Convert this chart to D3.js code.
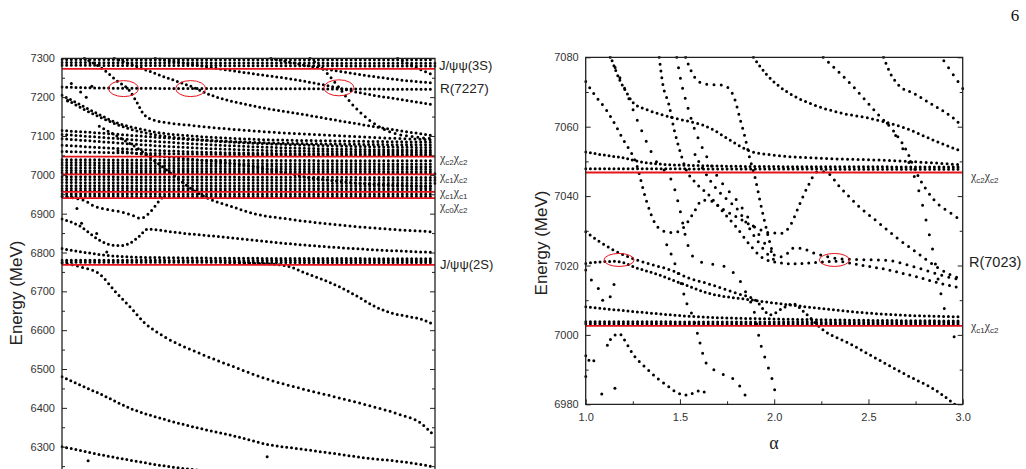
<!DOCTYPE html>
<html>
<head>
<meta charset="utf-8">
<script src="https://cdn.jsdelivr.net/npm/d3@7"></script>
<style>
  body { margin: 0; background: #fff; }
  svg { display: block; }
</style>
</head>
<body>
<svg id="chart" width="1026" height="469"></svg>
<script>
// ---- left panel data (alpha, energy in MeV) ----
const leftTicks = [6300, 6400, 6500, 6600, 6700, 6800, 6900, 7000, 7100, 7200, 7300];
const leftThresholds = [7273, 7047, 7001, 6956, 6940, 6768];
const leftRings = [[1.33, 7222], [1.69, 7222], [2.485, 7224]];

const lTop1 = [[1, 7297], [2, 7296], [3, 7296]];
const lTop2 = [[1, 7289], [2, 7288], [3, 7287]];
const lTop3 = [[1, 7282], [2, 7281], [3, 7280]];
const lR7227 = [[1, 7226], [1.3, 7223], [2, 7222], [3, 7220]];
const lDiagA = [[1.12, 7300], [1.22, 7272], [1.3, 7240], [1.36, 7218], [1.4, 7188], [1.44, 7155], [1.5, 7140], [1.7, 7127], [2, 7114], [2.5, 7100], [3, 7090]];
const lDiagB = [[1.28, 7300], [1.45, 7270], [1.55, 7252], [1.7, 7226], [1.8, 7205], [2, 7180], [2.3, 7155], [2.6, 7130], [3, 7100]];
const lDiagP = [[1.5, 7300], [1.75, 7280], [2, 7262], [2.25, 7245], [2.47, 7225], [2.6, 7211], [2.8, 7195], [3, 7180]];
const lDiagC = [[2.33, 7300], [2.42, 7262], [2.49, 7222], [2.55, 7185], [2.64, 7144], [2.75, 7112], [2.9, 7097], [3, 7093]];
const lDiagD = [[2.12, 7300], [2.35, 7278], [2.6, 7258], [2.8, 7245], [3, 7236]];
const lDiagE = [[2.8, 7300], [2.9, 7276], [3, 7255]];
const lFan1 = [[1, 7205], [1.1, 7180], [1.2, 7155], [1.3, 7133], [1.4, 7120], [1.5, 7110], [1.7, 7100], [2, 7092], [2.5, 7087], [3, 7084]];
const lFan2 = [[1.03, 7192], [1.12, 7168], [1.22, 7145], [1.35, 7120], [1.5, 7103], [1.7, 7092], [2, 7084], [2.5, 7079], [3, 7077]];
const lRow7114 = [[1, 7114], [1.25, 7106], [1.5, 7097], [2, 7082], [2.5, 7074], [3, 7070]];
const lRow7104 = [[1, 7104], [1.25, 7095], [1.5, 7086], [2, 7073], [2.5, 7066], [3, 7063]];
const lRow7093 = [[1, 7093], [1.3, 7082], [1.6, 7072], [2, 7064], [2.5, 7060], [3, 7058]];
const lRow7076 = [[1, 7076], [1.3, 7068], [1.6, 7061], [2, 7056], [3, 7053]];
const lRow7060 = [[1, 7060], [1.5, 7055], [2, 7052], [3, 7050]];
// dense band rows, energy at alpha = 1, 2, 3
const lBandAt1 = [7039, 7032, 7025, 7018, 7011, 7005, 6995, 6988, 6980, 6972, 6965, 6959, 6951, 6945];
const lBandAt2 = [7037, 7029, 7022, 7015, 7009, 7004, 6994, 6987, 6979, 6971, 6964, 6958, 6950, 6944];
const lBandAt3 = [7036, 7028, 7021, 7014, 7008, 7003, 6993, 6986, 6978, 6971, 6964, 6958, 6950, 6944];
const lCross = [[1.3, 7062], [1.5, 7049], [1.7, 7040], [1.9, 7030], [2.1, 7015], [2.2, 7005], [2.3, 6995], [2.45, 6985], [2.7, 6975], [3, 6970]];
const lLineA = [[1.2, 7125], [1.3, 7098], [1.4, 7070], [1.5, 7035], [1.6, 6998], [1.7, 6962], [1.78, 6940], [1.9, 6920], [2.03, 6900], [2.2, 6887], [2.4, 6875], [2.7, 6862], [3, 6853]];
const lDip = [[1, 6944], [1.07, 6940], [1.12, 6934], [1.17, 6920], [1.25, 6910], [1.32, 6904], [1.38, 6895], [1.42, 6888], [1.46, 6898], [1.5, 6920], [1.53, 6938], [1.56, 6946]];
const lWave = [[1, 6886], [1.1, 6867], [1.19, 6835], [1.27, 6819], [1.32, 6818], [1.36, 6823], [1.41, 6840], [1.46, 6860], [1.5, 6859], [1.59, 6853], [1.86, 6840], [2.21, 6823], [2.57, 6810], [3, 6800]];
const l6810 = [[1, 6810], [1.1, 6802], [1.2, 6795], [1.3, 6790], [1.5, 6787], [2, 6785], [3, 6784]];
const l2SRow1 = [[1, 6780], [3, 6779]];
const l2SRow2 = [[1, 6775], [3, 6774]];
const lDropH = [[1.9, 6775], [2.05, 6772], [2.2, 6766], [2.31, 6746], [2.4, 6730], [2.49, 6711], [2.58, 6688], [2.67, 6663], [2.76, 6645], [2.85, 6636], [2.94, 6626], [3, 6613]];
const lBig = [[1, 6773], [1.1, 6763], [1.2, 6745], [1.29, 6697], [1.38, 6652], [1.44, 6620], [1.5, 6598], [1.56, 6580], [1.74, 6540], [1.92, 6506], [2.1, 6474], [2.28, 6450], [2.45, 6430], [2.63, 6408], [2.81, 6383], [2.92, 6362], [3, 6326]];
const l6480 = [[1, 6480], [1.1, 6458], [1.2, 6437], [1.38, 6396], [1.56, 6369], [1.74, 6347], [1.92, 6328], [2.1, 6306], [2.28, 6294], [2.45, 6283], [2.63, 6271], [2.81, 6262], [2.95, 6252], [3, 6247]];
const l6300 = [[1, 6300], [1.1, 6290], [1.2, 6280], [1.38, 6264], [1.6, 6247], [1.8, 6236], [2, 6228]];
const lSingles = [[1.14, 6264], [2.1, 6274], [1.08, 6913], [1.105, 6875], [1.186, 6849], [1.24, 6801], [1.05, 7235], [1.1, 7213], [1.16, 7228], [1.03, 7190], [1.13, 7200]];

// ---- right panel data ----
const rightTicks = [6980, 7000, 7020, 7040, 7060, 7080];
const alphaTicks = [1.0, 1.5, 2.0, 2.5, 3.0];
const rightThresholds = [7046.8, 7002.6];
const rightRings = [[1.177, 7021.6], [2.319, 7021.6]];

const rR1 = [[1, 7052.7], [1.1, 7051.8], [1.2, 7051], [1.28, 7050], [1.4, 7049.2], [1.6, 7048.8], [2, 7048.5], [3, 7048.4]];
const rRow7048 = [[1, 7047.9], [3, 7047.7]];
const rS2 = [[1.14, 7079], [1.18, 7073.5], [1.21, 7070.5], [1.25, 7067], [1.32, 7065], [1.4, 7063.5], [1.47, 7062.5], [1.55, 7061.5], [1.62, 7060.5], [1.68, 7059], [1.74, 7057], [1.8, 7055], [1.87, 7053], [2, 7051.8], [2.3, 7050.8], [2.6, 7050.3], [3, 7049]];
const rS3 = [[1.13, 7080], [1.21, 7070.6], [1.28, 7061], [1.37, 7050.4], [1.465, 7043.2], [1.5, 7036], [1.536, 7027], [1.57, 7022.5], [1.606, 7021.1], [1.68, 7020.3], [1.75, 7019.5], [1.79, 7017.5], [1.82, 7015.5], [1.86, 7011], [1.89, 7007.5], [1.925, 6998], [1.96, 6992], [1.99, 6987], [2.015, 6981]];
const rL6 = [[1, 7073], [1.05, 7069], [1.11, 7064.8], [1.2, 7056.2], [1.27, 7049], [1.32, 7039], [1.37, 7032], [1.42, 7029.8], [1.47, 7029.5], [1.52, 7031], [1.57, 7035], [1.62, 7038.8], [1.67, 7038.5], [1.72, 7036.5], [1.8, 7034], [1.9, 7031], [1.97, 7029.5], [2.04, 7029.3], [2.09, 7032], [2.13, 7037], [2.18, 7043], [2.23, 7047], [2.27, 7047], [2.35, 7042.5], [2.45, 7037], [2.55, 7032.5], [2.65, 7028], [2.75, 7024], [2.85, 7020], [2.93, 7017.5], [3, 7016]];
const rL5 = [[1.53, 7080], [1.56, 7076], [1.6, 7073], [1.65, 7072.2], [1.72, 7072], [1.76, 7071], [1.79, 7068], [1.82, 7062], [1.845, 7057], [1.87, 7051], [1.9, 7045], [1.925, 7038.5], [1.95, 7032.5], [1.975, 7027], [2, 7023], [2.03, 7022.5], [2.07, 7023.5], [2.1, 7025], [2.14, 7025], [2.2, 7023.8], [2.28, 7022.6], [2.35, 7021.9], [2.45, 7021.7], [2.6, 7021.5], [2.7, 7020.3], [2.8, 7018.7], [2.9, 7017], [3, 7015.8]];
const rMF1 = [[1.39, 7080], [1.41, 7072], [1.44, 7066.7], [1.47, 7059], [1.5, 7053], [1.53, 7048], [1.58, 7044], [1.65, 7040.5], [1.72, 7036], [1.8, 7031], [1.87, 7026], [1.93, 7022.5], [2, 7021], [2.1, 7020.5], [2.2, 7020.8], [2.33, 7021.2], [2.45, 7020.2], [2.6, 7018.8], [2.75, 7016.8], [2.9, 7014.6], [3, 7013.4]];
const rMF2 = [[1.483, 7080], [1.51, 7072], [1.536, 7066.7], [1.57, 7060.5], [1.6, 7056.2], [1.65, 7050.5], [1.7, 7045.6], [1.75, 7042], [1.8, 7038.9], [1.9, 7030.5], [1.995, 7023.5], [2.03, 7022.5]];
const rMF3 = [[1.58, 7052], [1.62, 7048], [1.68, 7043], [1.75, 7039], [1.8, 7036.5], [1.9, 7028], [1.97, 7023], [2.03, 7020.6]];
const rE3 = [[1.89, 7080], [1.96, 7075], [2.03, 7071.5], [2.1, 7069], [2.2, 7066.5], [2.35, 7064], [2.5, 7062.5], [2.7, 7059.5], [2.85, 7056], [3, 7052.8]];
const rE4 = [[2.26, 7080], [2.42, 7071.5], [2.56, 7063], [2.63, 7059], [2.7, 7053.3], [2.756, 7046.6], [2.84, 7039.4], [2.95, 7034.6], [3, 7032.6]];
const rE2 = [[2.58, 7080], [2.62, 7075], [2.66, 7072], [2.74, 7069.6], [2.85, 7066], [2.95, 7062.5], [3, 7060]];
const rE1 = [[2.9, 7079], [2.95, 7075], [3, 7071]];
const rSteepR = [[2.6, 7061], [2.66, 7056], [2.72, 7049], [2.77, 7041], [2.81, 7032], [2.85, 7022], [2.88, 7013], [2.91, 7006], [2.95, 7000], [3, 6996]];
const rUpper = [[1, 7029.7], [1.07, 7027], [1.146, 7024.5], [1.25, 7022], [1.35, 7020.3], [1.46, 7018.5], [1.55, 7016.3], [1.64, 7014.9], [1.8, 7012], [1.9, 7010], [1.98, 7005.8], [2.04, 7007.5], [2.1, 7009], [2.16, 7006.5], [2.26, 7001.4], [2.4, 6997.5], [2.525, 6993.7], [2.7, 6988.5], [2.88, 6983.2], [2.95, 6980.3], [3, 6978]];
const rLower = [[1, 7020.6], [1.07, 7021], [1.146, 7021.2], [1.2, 7020.8], [1.25, 7019.7], [1.39, 7017.3], [1.5, 7015], [1.64, 7012.2], [1.89, 7010], [2.17, 7008.1], [2.52, 7006.2], [3, 7005.2]];
const rRow7008 = [[1, 7008.1], [1.3, 7006.5], [1.6, 7005.2], [2, 7004.6], [3, 7004]];
const rRow7004 = [[1, 7003.8], [3, 7003.6]];
const rRow7003 = [[1, 7003.2], [3, 7003.1]];
const rBowl = [[1.115, 6997], [1.14, 6999.3], [1.18, 7000.3], [1.2, 6999], [1.25, 6994.5], [1.32, 6990.5], [1.38, 6987.5], [1.43, 6985.5], [1.5, 6983], [1.54, 6982.7], [1.58, 6983.5], [1.61, 6984], [1.63, 6983.5], [1.645, 6982]];
const rSteepMid = [[1.43, 7026], [1.47, 7021], [1.5, 7016], [1.53, 7010], [1.57, 7005], [1.6, 6999], [1.64, 6991.8], [1.72, 6988.9], [1.8, 6986.5], [1.85, 6982.2], [1.87, 6980]];
const rLeftShort = [[1, 6994], [1.03, 6992.3], [1.05, 6992.6], [1.07, 6992.2]];
const rSingles = [[1.0, 6988], [1.085, 6983], [1.155, 6984.6], [1.03, 7015.8], [1.067, 7013.4], [1.09, 7010], [1.13, 7011], [1.15, 7014.5], [1.0, 7018.7]];

// tables built from the arrays above
const lBandRows = lBandAt1.map((e, i) => [[1, e], [2, lBandAt2[i]], [3, lBandAt3[i]]]);
const leftCurves = [lTop1, lTop2, lTop3, lR7227, lDiagA, lDiagB, lDiagP, lDiagC, lDiagD, lDiagE,
  lFan1, lFan2, lRow7114, lRow7104, lRow7093, lRow7076, lRow7060,
  ...lBandRows, lCross, lLineA, lDip, lWave, l6810, l2SRow1, l2SRow2, lDropH, lBig, l6480, l6300];
const rightCurves = [rR1, rRow7048, rS2, rS3, rL6, rL5, rMF1, rMF2, rMF3, rE3, rE4, rE2, rE1, rSteepR,
  rUpper, rLower, rRow7008, rRow7004, rRow7003, rBowl, rSteepMid, rLeftShort];

const svg = d3.select("#chart");
const sans = "'Liberation Sans', Arial, sans-serif";
const serif = "'Liberation Serif', 'Times New Roman', serif";
const red = "#e8141c";

function styleAxis(a) {
  a.select(".domain").remove();
  a.selectAll("line").attr("stroke", "#222");
  a.attr("font-family", sans).attr("font-size", 11).selectAll("text").attr("fill", "#333");
}

function drawPanel(p) {
  const { x, y, curves, singles, thresholds, rings, id } = p;
  const [x0, x1] = x.range();
  const yTop = y(p.topE), yBot = y(p.bottomE);

  svg.append("clipPath").attr("id", id)
    .append("rect").attr("x", x0 - 1.5).attr("y", yTop - 1).attr("width", x1 - x0 + 3).attr("height", yBot - yTop + 1);

  const g = svg.append("g").attr("clip-path", `url(#${id})`);
  const line = d3.line().x(d => x(d[0])).y(d => y(d[1])).curve(d3.curveMonotoneX);

  // each curve is sampled in steps of 0.025 in alpha: one dot per step
  curves.forEach(c => {
    const path = g.append("path").datum(c).attr("d", line)
      .attr("fill", "none").attr("stroke", "#000").attr("stroke-width", 3).attr("stroke-linecap", "round");
    const len = path.node().getTotalLength();
    const steps = Math.max(1, Math.round((c[c.length - 1][0] - c[0][0]) / 0.025));
    path.attr("stroke-dasharray", `0 ${len / steps}`);
  });

  g.selectAll("circle.single").data(singles).enter().append("circle")
    .attr("cx", d => x(d[0])).attr("cy", d => y(d[1])).attr("r", 1.5).attr("fill", "#000");

  // thresholds
  g.selectAll("line.thr").data(thresholds).enter().append("line")
    .attr("x1", x0).attr("x2", x1).attr("y1", d => y(d)).attr("y2", d => y(d))
    .attr("stroke", red).attr("stroke-width", 1.8);

  g.selectAll("ellipse").data(rings).enter().append("ellipse")
    .attr("cx", d => x(d[0])).attr("cy", d => y(d[1])).attr("rx", 15).attr("ry", p.ringRy)
    .attr("fill", "none").attr("stroke", red).attr("stroke-width", 1);

  // frame
  svg.append("path")
    .attr("d", `M${x0},${yBot}V${yTop}H${x1}V${yBot}` + (p.closed ? "Z" : ""))
    .attr("fill", "none").attr("stroke", "#222").attr("stroke-width", 1.3);

  // y ticks, inward on both sides
  svg.append("g").attr("transform", `translate(${x0},0)`)
    .call(d3.axisLeft(y).tickValues(p.majors).tickSize(-5).tickPadding(7).tickFormat(d3.format("d")))
    .call(styleAxis);
  svg.append("g").attr("transform", `translate(${x0},0)`)
    .call(d3.axisLeft(y).tickValues(p.minors).tickSize(-3).tickFormat(""))
    .call(styleAxis);
  svg.append("g").attr("transform", `translate(${x1},0)`)
    .call(d3.axisRight(y).tickValues(p.majors).tickSize(-5).tickFormat(""))
    .call(styleAxis);
  svg.append("g").attr("transform", `translate(${x1},0)`)
    .call(d3.axisRight(y).tickValues(p.minors).tickSize(-3).tickFormat(""))
    .call(styleAxis);

  // y label
  svg.append("text")
    .attr("transform", `translate(${p.labelX},${p.labelY}) rotate(-90)`)
    .attr("text-anchor", "middle").attr("font-family", sans).attr("font-size", 17).attr("fill", "#222")
    .text("Energy (MeV)");
}

// ---- left panel ----
const lx = d3.scaleLinear().domain([1, 3]).range([62, 435]);
const ly = d3.scaleLinear().domain([6300, 7300]).range([446.7, 58.3]);
drawPanel({
  id: "clipL", x: lx, y: ly, topE: 7300, bottomE: 6200, curves: leftCurves, singles: lSingles,
  thresholds: leftThresholds, rings: leftRings, ringRy: 8, closed: false,
  majors: leftTicks, minors: d3.range(6250, 7300, 100),
  labelX: 22, labelY: 293
});

// ---- right panel ----
const rx = d3.scaleLinear().domain([1, 3]).range([585.7, 962.7]);
const ry = d3.scaleLinear().domain([6980, 7080]).range([404.3, 57.3]);
drawPanel({
  id: "clipR", x: rx, y: ry, topE: 7080, bottomE: 6980, curves: rightCurves, singles: rSingles,
  thresholds: rightThresholds, rings: rightRings, ringRy: 6.5, closed: true,
  majors: rightTicks, minors: d3.range(6990, 7080, 20),
  labelX: 547, labelY: 243
});

svg.append("g").attr("transform", `translate(0,${ry(6980)})`)
  .call(d3.axisBottom(rx).tickValues(alphaTicks).tickSize(-5).tickPadding(9).tickFormat(d3.format(".1f")))
  .call(styleAxis);
svg.append("g").attr("transform", `translate(0,${ry(6980)})`)
  .call(d3.axisBottom(rx).tickValues([1.25, 1.75, 2.25, 2.75]).tickSize(-3).tickFormat(""))
  .call(styleAxis);

svg.append("text").attr("x", 774).attr("y", 449).attr("text-anchor", "middle")
  .attr("font-family", serif).attr("font-size", 18).attr("fill", "#222").text("α");

// ---- annotations ----
function plainLabel(x, y, txt, size) {
  svg.append("text").attr("x", x).attr("y", y).attr("font-family", sans)
    .attr("font-size", size).attr("fill", "#222").text(txt);
}
function chiLabel(x, y, a, b) {
  const t = svg.append("text").attr("x", x).attr("y", y).attr("font-family", serif)
    .attr("font-size", 12).attr("fill", "#333");
  t.append("tspan").text("χ");
  t.append("tspan").attr("dy", 3).attr("font-family", sans).attr("font-size", 8).text(a);
  t.append("tspan").attr("dy", -3).text("χ");
  t.append("tspan").attr("dy", 3).attr("font-family", sans).attr("font-size", 8).text(b);
}

plainLabel(439, 70, "J/ψψ(3S)", 13);
plainLabel(440, 93, "R(7227)", 13.5);
chiLabel(440, 162, "c2", "c2");
chiLabel(440, 180, "c1", "c2");
chiLabel(440, 196, "c1", "c1");
chiLabel(440, 210, "c0", "c2");
plainLabel(440, 269, "J/ψψ(2S)", 13);

chiLabel(971, 180, "c2", "c2");
plainLabel(969, 267, "R(7023)", 14.5);
chiLabel(971, 330, "c1", "c2");

svg.append("text").attr("x", 1015).attr("y", 21).attr("text-anchor", "middle")
  .attr("font-family", serif).attr("font-size", 17).attr("fill", "#111").text("6");
</script>
</body>
</html>
